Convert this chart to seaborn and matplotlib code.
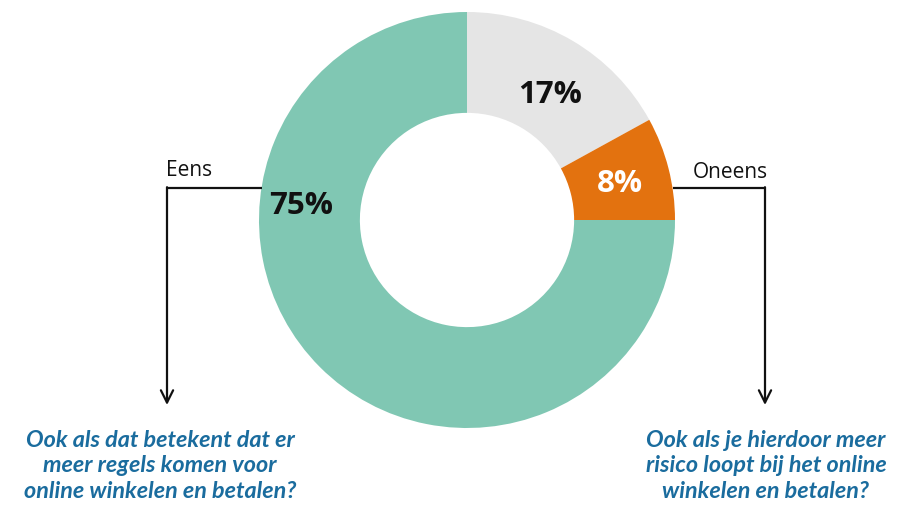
import matplotlib
matplotlib.use("Agg")
import matplotlib.pyplot as plt
import seaborn as sns

sns.set_theme(style="white")
plt.rcParams["font.family"] = ["Open Sans", "DejaVu Sans"]

# Answer shares, clockwise from 12 o'clock
categories = ["Weet niet", "Oneens", "Eens"]
shares = [17, 8, 75]
colors = ["#E5E5E5", "#E3720F", "#80C7B3"]
label_colors = ["#111111", "#FFFFFF", "#111111"]

side_labels = ["Eens", "Oneens"]
questions = [
    "Ook als dat betekent dat er\nmeer regels komen voor\nonline winkelen en betalen?",
    "Ook als je hierdoor meer\nrisico loopt bij het online\nwinkelen en betalen?",
]

W, H = 921, 505
fig = plt.figure(figsize=(W / 100, H / 100), dpi=100)
ax = fig.add_axes([0, 0, 1, 1])

cx, cy, r = 467, H - 220, 208
wedges, _ = ax.pie(
    shares, colors=colors, startangle=90, counterclock=False,
    center=(cx, cy), radius=r, frame=True,
    wedgeprops=dict(width=r * 0.485, linewidth=0),
)
ax.set_xlim(0, W)
ax.set_ylim(0, H)
ax.set_aspect("equal")
ax.axis("off")

# percentage labels inside the ring
label_pos = [(550, H - 95), (620, H - 184), (301, H - 206)]
for v, (x, y), c in zip(shares, label_pos, label_colors):
    ax.text(x, y, f"{v}%", ha="center", va="center", fontsize=22.5,
            fontweight="bold", color=c)

# connector lines with arrows
lc = "#111111"
ax.plot([262, 167], [H - 188, H - 188], color=lc, lw=1.6, solid_capstyle="butt")
ax.annotate("", xy=(167, H - 405), xytext=(167, H - 187.2),
            arrowprops=dict(arrowstyle="->", color=lc, lw=1.6,
                            mutation_scale=22, shrinkA=0, shrinkB=0))
ax.plot([673, 765], [H - 188, H - 188], color=lc, lw=1.6, solid_capstyle="butt")
ax.annotate("", xy=(765, H - 405), xytext=(765, H - 187.2),
            arrowprops=dict(arrowstyle="->", color=lc, lw=1.6,
                            mutation_scale=22, shrinkA=0, shrinkB=0))

ax.text(166, H - 170, side_labels[0], ha="left", va="center", fontsize=15, color=lc)
ax.text(768, H - 173, side_labels[1], ha="right", va="center", fontsize=15, color=lc)

blue = "#1A6C9E"
for x, q in zip([160, 766], questions):
    ax.text(x, H - 466, q, ha="center", va="center", fontsize=16.8,
            fontweight="bold", fontstyle="italic", color=blue,
            family=["Lato", "DejaVu Sans"], linespacing=1.26)

fig.savefig("out.png", dpi=100)
